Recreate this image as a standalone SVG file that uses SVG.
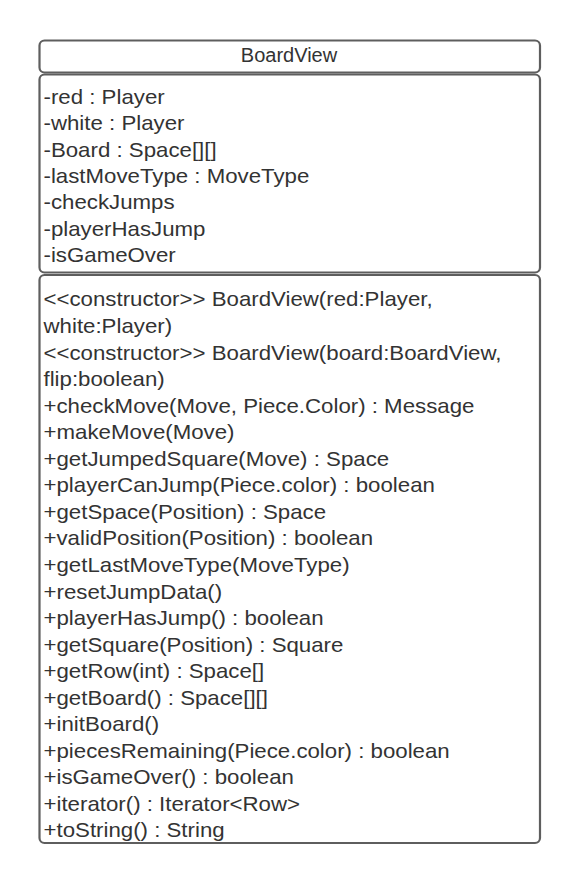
<svg xmlns="http://www.w3.org/2000/svg" width="580" height="883" viewBox="0 0 580 883">
  <style>
    .box { fill: #ffffff; stroke: #5e5e5e; stroke-width: 2.2; }
    .t { font-family: "Liberation Sans", Arial, sans-serif; font-size: 20.7px; fill: #333333; }
    .title { font-size: 20px; text-anchor: middle; }
  </style>
  <rect x="0" y="0" width="580" height="883" fill="#ffffff"/>
  <g id="BoardView">
    <g id="BoardView-header">
      <rect class="box" x="39.5" y="40.5" width="500.5" height="32" rx="5"/>
      <text class="t title" x="289" y="62">BoardView</text>
    </g>
    <g id="BoardView-attributes">
      <rect class="box" x="39.5" y="74.5" width="500.5" height="198" rx="5"/>
      <!-- member text is set slightly wide -->
      <g transform="translate(43.5 0) scale(1.075 1)">
        <text class="t" x="0" y="103.7">-red : Player</text>
        <text class="t" x="0" y="130.1">-white : Player</text>
        <text class="t" x="0" y="156.6">-Board : Space[][]</text>
        <text class="t" x="0" y="183">-lastMoveType : MoveType</text>
        <text class="t" x="0" y="209.4">-checkJumps</text>
        <text class="t" x="0" y="235.9">-playerHasJump</text>
        <text class="t" x="0" y="262.3">-isGameOver</text>
      </g>
    </g>
    <g id="BoardView-methods">
      <rect class="box" x="39.5" y="275" width="500.5" height="568" rx="5"/>
      <g transform="translate(43.5 0) scale(1.075 1)">
        <text class="t" x="0" y="306.5">&lt;&lt;constructor&gt;&gt; BoardView(red:Player,</text>
        <text class="t" x="0" y="333.05">white:Player)</text>
        <text class="t" x="0" y="359.6">&lt;&lt;constructor&gt;&gt; BoardView(board:BoardView,</text>
        <text class="t" x="0" y="386.15">flip:boolean)</text>
        <text class="t" x="0" y="412.7">+checkMove(Move, Piece.Color) : Message</text>
        <text class="t" x="0" y="439.25">+makeMove(Move)</text>
        <text class="t" x="0" y="465.8">+getJumpedSquare(Move) : Space</text>
        <text class="t" x="0" y="492.35">+playerCanJump(Piece.color) : boolean</text>
        <text class="t" x="0" y="518.9">+getSpace(Position) : Space</text>
        <text class="t" x="0" y="545.45">+validPosition(Position) : boolean</text>
        <text class="t" x="0" y="572">+getLastMoveType(MoveType)</text>
        <text class="t" x="0" y="598.55">+resetJumpData()</text>
        <text class="t" x="0" y="625.1">+playerHasJump() : boolean</text>
        <text class="t" x="0" y="651.65">+getSquare(Position) : Square</text>
        <text class="t" x="0" y="678.2">+getRow(int) : Space[]</text>
        <text class="t" x="0" y="704.75">+getBoard() : Space[][]</text>
        <text class="t" x="0" y="731.3">+initBoard()</text>
        <text class="t" x="0" y="757.85">+piecesRemaining(Piece.color) : boolean</text>
        <text class="t" x="0" y="784.4">+isGameOver() : boolean</text>
        <text class="t" x="0" y="810.95">+iterator() : Iterator&lt;Row&gt;</text>
        <text class="t" x="0" y="837.5">+toString() : String</text>
      </g>
    </g>
  </g>
</svg>
